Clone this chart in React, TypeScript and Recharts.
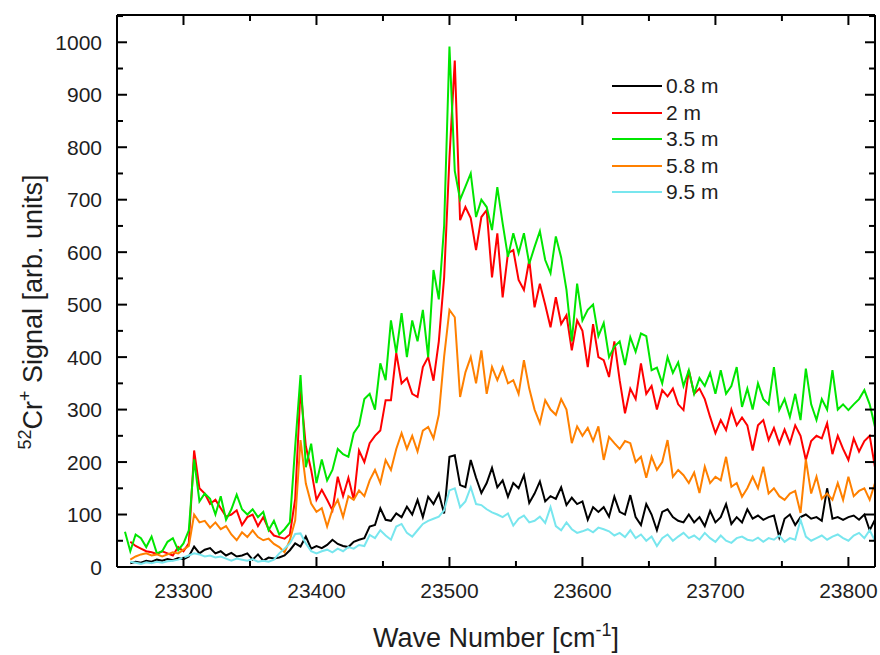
import { LineChart, Line, XAxis, YAxis, Legend } from 'recharts';

// wave number grid [cm^-1], one sample every 4 cm^-1
const waveNumbers = [
  23256, 23260, 23264, 23268, 23272, 23276, 23280, 23284, 23288, 23292,
  23296, 23300, 23304, 23308, 23312, 23316, 23320, 23324, 23328, 23332,
  23336, 23340, 23344, 23348, 23352, 23356, 23360, 23364, 23368, 23372,
  23376, 23380, 23384, 23388, 23392, 23396, 23400, 23404, 23408, 23412,
  23416, 23420, 23424, 23428, 23432, 23436, 23440, 23444, 23448, 23452,
  23456, 23460, 23464, 23468, 23472, 23476, 23480, 23484, 23488, 23492,
  23496, 23500, 23504, 23508, 23512, 23516, 23520, 23524, 23528, 23532,
  23536, 23540, 23544, 23548, 23552, 23556, 23560, 23564, 23568, 23572,
  23576, 23580, 23584, 23588, 23592, 23596, 23600, 23604, 23608, 23612,
  23616, 23620, 23624, 23628, 23632, 23636, 23640, 23644, 23648, 23652,
  23656, 23660, 23664, 23668, 23672, 23676, 23680, 23684, 23688, 23692,
  23696, 23700, 23704, 23708, 23712, 23716, 23720, 23724, 23728, 23732,
  23736, 23740, 23744, 23748, 23752, 23756, 23760, 23764, 23768, 23772,
  23776, 23780, 23784, 23788, 23792, 23796, 23800, 23804, 23808, 23812,
  23816, 23820,
];

const signal08m = [
  null, 7, 10, 8, 12, 10, 14, 12, 15, 13,
  17, 15, 20, 39, 26, 33, 36, 26, 30, 22,
  27, 20, 22, 26, 14, 24, 12, 18, 16, 18,
  22, 32, 45, 39, 58, 35, 40, 36, 42, 52,
  44, 40, 38, 48, 52, 55, 77, 80, 112, 90,
  88, 102, 95, 115, 100, 128, 95, 134, 120, 140,
  102, 210, 213, 156, 152, 204, 170, 141, 160, 189,
  152, 165, 134, 160, 150, 175, 122, 140, 163, 125,
  135, 130, 152, 118, 132, 120, 125, 90, 114, 105,
  114, 96, 134, 105, 100, 137, 95, 80, 120, 100,
  70, 105, 110, 95, 88, 85, 100, 85, 95, 78,
  107, 85, 95, 120, 82, 95, 85, 110, 92, 98,
  90, 95, 98, 57, 92, 100, 80, 95, 100, 92,
  95, 88, 150, 92, 95, 90, 95, 98, 90, 100,
  70, 90,
];

const signal2m = [
  null, 48, 40, 35, 30, 28, 25, 30, 26, 22,
  38, 30, 45, 222, 150, 140, 120, 128, 112, 96,
  100, 108, 80, 95, 100, 78, 95, 72, 60, 57,
  54, 62, 130, 340, 230, 185, 128, 147, 128, 108,
  172, 135, 170, 128, 222, 200, 236, 250, 260, 318,
  318, 408, 350, 360, 330, 324, 381, 400, 355, 430,
  552, 780, 965, 661, 686, 665, 604, 667, 680, 552,
  636, 514, 598, 604, 547, 528, 585, 495, 540, 500,
  457, 514, 463, 480, 413, 470, 450, 381, 463, 400,
  394, 362, 430, 356, 293, 340, 320, 388, 330, 345,
  300, 337, 325, 340, 310, 299, 375, 330, 340, 320,
  286, 255, 280, 261, 300, 270, 285, 270, 222, 270,
  280, 242, 265, 235, 262, 236, 270, 250, 204, 240,
  250, 245, 274, 215, 250, 225, 204, 245, 220, 240,
  250, 190,
];

const signal35m = [
  67, 30, 62, 55, 38, 58, 26, 30, 48, 55,
  32, 45, 70, 205, 125, 140, 130, 100, 135, 90,
  110, 138, 110, 100, 110, 95, 105, 70, 88, 62,
  72, 85, 230, 366, 190, 235, 160, 205, 165, 185,
  225, 215, 210, 255, 270, 320, 330, 300, 388, 356,
  470, 408, 484, 400, 470, 430, 490, 400, 566, 510,
  650, 992, 755, 700, 725, 750, 667, 700, 686, 642,
  724, 655, 591, 636, 598, 636, 578, 610, 640, 585,
  560, 630, 590, 528, 430, 540, 470, 490, 500, 440,
  465, 400, 420, 430, 385, 438, 410, 445, 440, 375,
  380, 350, 400, 370, 390, 345, 375, 330, 360, 345,
  370, 330, 375, 330, 345, 381, 305, 340, 300, 350,
  320, 310, 381, 299, 320, 286, 330, 280, 378, 310,
  280, 320, 300, 375, 300, 310, 299, 310, 320, 337,
  310, 267,
];

const signal58m = [
  null, 14, 20, 24, 26, 22, 24, 20, 24, 28,
  26, 33, 40, 100, 85, 88, 75, 85, 72, 78,
  62, 51, 66, 57, 70, 57, 51, 54, 44, 38,
  28, 51, 89, 242, 159, 121, 105, 112, 77, 110,
  128, 95, 135, 128, 146, 135, 165, 185, 160, 204,
  185, 225, 255, 225, 250, 220, 260, 267, 245, 290,
  401, 490, 476, 324, 371, 400, 350, 413, 330, 381,
  356, 381, 350, 356, 330, 394, 340, 300, 274, 318,
  300, 290, 320, 300, 236, 268, 250, 265, 240, 268,
  204, 248, 236, 225, 240, 236, 200, 210, 170, 210,
  185, 200, 242, 172, 185, 175, 160, 180, 141, 191,
  160, 172, 165, 210, 153, 160, 134, 150, 172, 150,
  191, 140, 150, 135, 128, 140, 145, 103, 205, 140,
  172, 130, 140, 128, 160, 128, 172, 135, 145, 150,
  128, 160,
];

const signal95m = [
  null, 10, 8, 6, 9, 7, 10, 8, 11, 12,
  14, 18, 22, 26, 24, 20, 22, 18, 20, 16,
  12, 16, 14, 12, 15, 10, 12, 10, 14, 26,
  35, 45, 63, 64, 45, 30, 26, 30, 33, 28,
  35, 30, 38, 35, 42, 40, 61, 55, 70, 60,
  52, 77, 82, 65, 58, 70, 82, 88, 92, 96,
  108, 146, 150, 114, 125, 152, 120, 118, 110, 104,
  100, 95, 102, 79, 92, 98, 85, 88, 96, 84,
  114, 78, 70, 85, 72, 65, 68, 72, 66, 75,
  72, 68, 60, 65, 57, 70, 55, 62, 50, 58,
  40, 55, 62, 50, 58, 65, 55, 60, 52, 65,
  55, 48, 60, 50, 46, 55, 58, 52, 50, 56,
  48, 55, 52, 60, 48, 55, 52, 90, 58, 50,
  55, 60, 52, 58, 62, 55, 50, 60, 65, 55,
  70, 50,
];

const xTicks = [23250, 23300, 23350, 23400, 23450, 23500, 23550, 23600, 23650, 23700, 23750, 23800];
const yTicks = [0, 50, 100, 150, 200, 250, 300, 350, 400, 450, 500, 550, 600, 650, 700, 750, 800, 850, 900, 950, 1000, 1050];

const series = [
  { key: 's08', name: '0.8 m', color: '#000000', values: signal08m },
  { key: 's2', name: '2 m', color: '#ff0000', values: signal2m },
  { key: 's35', name: '3.5 m', color: '#00e600', values: signal35m },
  { key: 's58', name: '5.8 m', color: '#ff8000', values: signal58m },
  { key: 's95', name: '9.5 m', color: '#78e6ee', values: signal95m },
];

const data = waveNumbers.map((x, i) => {
  const row: Record<string, number | null> = { x };
  series.forEach(s => { row[s.key] = s.values[i]; });
  return row;
});

const FONT = '"Liberation Sans", Arial, sans-serif';
const INK = '#1e1e1e';

// ticks point inwards, labels only on the hundreds
const BottomTick = ({ x, y, payload }: any) => {
  const major = payload.value % 100 === 0;
  return (
    <g>
      <line x1={x} y1={y} x2={x} y2={y - (major ? 10 : 6)} stroke="#000" strokeWidth={2} />
      {major && (
        <text x={x} y={y + 31} textAnchor="middle" fontSize={21} fontFamily={FONT} fill={INK}>
          {payload.value}
        </text>
      )}
    </g>
  );
};

const TopTick = ({ x, y, payload }: any) => {
  const major = payload.value % 100 === 0;
  return <line x1={x} y1={y} x2={x} y2={y + (major ? 10 : 6)} stroke="#000" strokeWidth={2} />;
};

const LeftTick = ({ x, y, payload }: any) => {
  const major = payload.value % 100 === 0;
  return (
    <g>
      <line x1={x} y1={y} x2={x + (major ? 10 : 6)} y2={y} stroke="#000" strokeWidth={2} />
      {major && (
        <text x={x - 15} y={y + 7.5} textAnchor="end" fontSize={21} fontFamily={FONT} fill={INK}>
          {payload.value}
        </text>
      )}
    </g>
  );
};

const RightTick = ({ x, y, payload }: any) => {
  const major = payload.value % 100 === 0;
  return <line x1={x} y1={y} x2={x - (major ? 10 : 6)} y2={y} stroke="#000" strokeWidth={2} />;
};

const XTitle = () => (
  <text x={496} y={647} textAnchor="middle" fontSize={27} fontFamily={FONT} fill={INK}>
    Wave Number [cm<tspan dy={-11} fontSize={18}>-1</tspan><tspan dy={11}>]</tspan>
  </text>
);

const YTitle = () => (
  <text transform="rotate(-90)" x={-312} y={42} textAnchor="middle" fontSize={27} fontFamily={FONT} fill={INK}>
    <tspan dy={-11} fontSize={18}>52</tspan>
    <tspan dy={11}>Cr</tspan>
    <tspan dy={-11} fontSize={18}>+</tspan>
    <tspan dy={11}> Signal [arb. units]</tspan>
  </text>
);

const SeriesLegend = ({ payload }: any) => (
  <div style={{ fontFamily: FONT, fontSize: 21, color: INK }}>
    {(payload || []).map((p: any) => (
      <div key={p.value} style={{ display: 'flex', alignItems: 'center', height: 26.5 }}>
        <svg width={50} height={4}>
          <line x1={0} y1={2} x2={50} y2={2} stroke={p.color} strokeWidth={2} />
        </svg>
        <span style={{ marginLeft: 4 }}>{p.value}</span>
      </div>
    ))}
  </div>
);

export default function App() {
  return (
    <div style={{ position: 'absolute', left: 0, top: 0, background: '#fff' }}>
      <LineChart width={880} height={655} data={data} margin={{ top: 0, right: 0, bottom: 0, left: 57 }}>
        <XAxis
          dataKey="x"
          type="number"
          domain={[23250, 23820]}
          allowDataOverflow
          ticks={xTicks}
          interval={0}
          tickSize={0}
          tickMargin={0}
          tickLine={false}
          tick={BottomTick}
          axisLine={{ stroke: '#000', strokeWidth: 2 }}
          height={88}
          label={XTitle}
        />
        <XAxis
          xAxisId="top"
          orientation="top"
          dataKey="x"
          type="number"
          domain={[23250, 23820]}
          allowDataOverflow
          ticks={xTicks}
          interval={0}
          tickSize={0}
          tickMargin={0}
          tickLine={false}
          tick={TopTick}
          axisLine={{ stroke: '#000', strokeWidth: 2 }}
          height={15}
        />
        <YAxis
          type="number"
          domain={[0, 1052]}
          allowDataOverflow
          ticks={yTicks}
          interval={0}
          tickSize={0}
          tickMargin={0}
          tickLine={false}
          tick={LeftTick}
          axisLine={{ stroke: '#000', strokeWidth: 2 }}
          width={60}
          label={YTitle}
        />
        <YAxis
          yAxisId="right"
          orientation="right"
          type="number"
          domain={[0, 1052]}
          allowDataOverflow
          ticks={yTicks}
          interval={0}
          tickSize={0}
          tickMargin={0}
          tickLine={false}
          tick={RightTick}
          axisLine={{ stroke: '#000', strokeWidth: 2 }}
          width={5}
        />
        <Legend
          layout="vertical"
          align="center"
          verticalAlign="middle"
          content={SeriesLegend}
          wrapperStyle={{ left: 612, top: 73, width: 130 }}
        />
        {series.map(s => (
          <Line
            key={s.key}
            dataKey={s.key}
            name={s.name}
            stroke={s.color}
            strokeWidth={2}
            dot={false}
            type="linear"
            isAnimationActive={false}
          />
        ))}
      </LineChart>
    </div>
  );
}
